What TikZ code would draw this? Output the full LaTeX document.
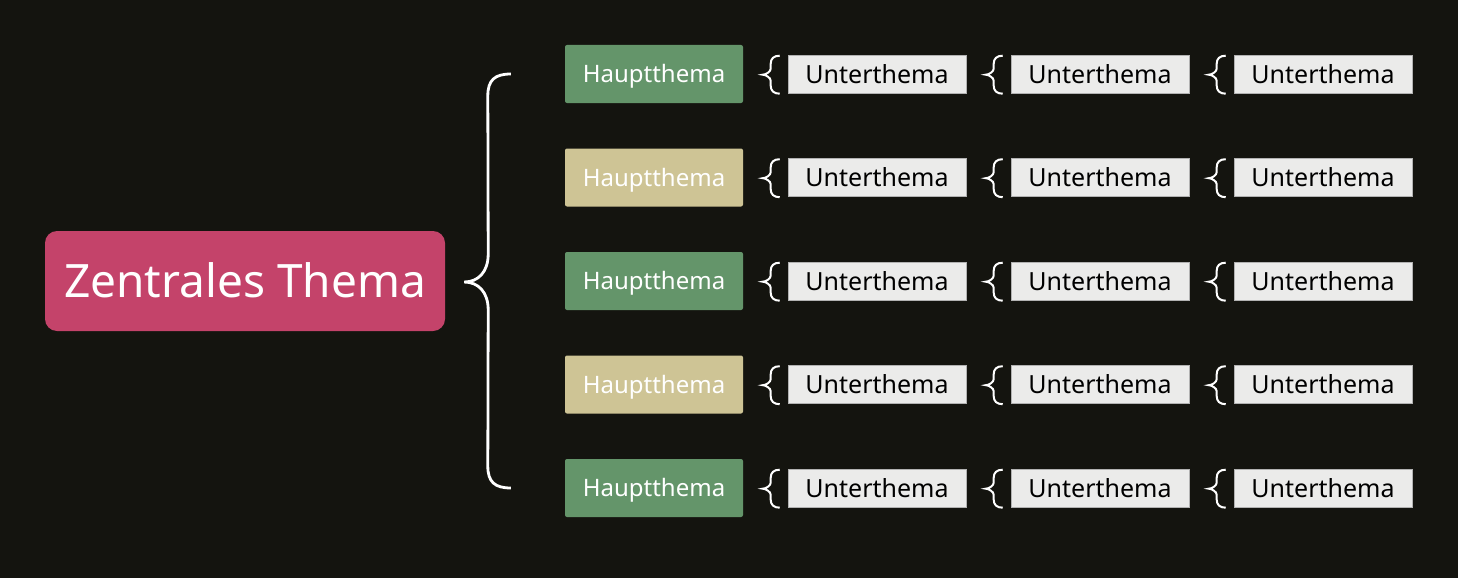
\documentclass[tikz,border=0pt]{standalone}
\usepackage{fontspec}
\setmainfont{Noto Sans}
\usetikzlibrary{calc}
\definecolor{bg}{HTML}{14140F}
\definecolor{zred}{HTML}{C4436A}
\definecolor{hgreen}{HTML}{64956A}
\definecolor{hbeige}{HTML}{CEC495}
\definecolor{ugray}{HTML}{EBEBEA}
\begin{document}
\begin{tikzpicture}[x=1pt,y=-1pt,
  central/.style={fill=zred,rounded corners=12pt,minimum width=400pt,minimum height=100pt,text=white,font=\fontsize{46}{50}\selectfont,inner sep=0pt,text height=33pt,text depth=0pt},
  mainbox/.style={rounded corners=2pt,minimum width=178pt,minimum height=58pt,text=white,font=\fontsize{24}{28}\selectfont,inner sep=0pt,text height=17pt,text depth=0pt},
  subbox/.style={fill=ugray,draw=gray!60,line width=0.6pt,minimum width=178pt,minimum height=38pt,text=black,font=\fontsize{25}{29}\selectfont,inner sep=0pt,text height=18pt,text depth=0pt},
  bracestyle/.style={draw=white,line width=2.8pt},
  sbracestyle/.style={draw=white,line width=2pt}]
\fill[bg] (0,0) rectangle (1458,578);
\useasboundingbox (0,0) rectangle (1458,578);
\node[central] (z) at (245,281) {Zentrales Thema};
\foreach \i/\c in {1/hgreen,2/hbeige,3/hgreen,4/hbeige,5/hgreen}{
  \pgfmathsetmacro{\yy}{74+103.5*(\i-1)}
  \node[mainbox,fill=\c] (h\i) at (654,\yy) {Hauptthema};
  \foreach \j/\xx in {1/877,2/1100,3/1323}{
    \node[subbox] (u\i\j) at (\xx,\yy) {Unterthema};
    \coordinate (s\i\j) at ($(u\i\j.north west)+(-8,1)$);
    \draw[sbracestyle] (s\i\j)
      .. controls +(-6,0) and +(0,-5) .. ++(-9,8) -- ++(0,5)
      .. controls +(0,3) and +(3,0) .. ++(-8,6)
      .. controls +(3,0) and +(0,-3) .. ++(8,6) -- ++(0,5)
      .. controls +(0,5) and +(-6,0) .. ++(9,8);
  }
}
\coordinate (bt) at ($(h1.west)+(-54,0)$);
\coordinate (bb) at ($(h5.west)+(-54,0)$);
\coordinate (bm) at ($(z.east)+(19,1)$);
\draw[bracestyle] (bt) .. controls +(-16,0) and +(0,-16) .. ($(bt)+(-23,22)$)
  -- ($(bm)+(24,-28)$)
  .. controls +(0,18) and +(14,0) .. (bm)
  .. controls +(14,0) and +(0,-18) .. ($(bm)+(24,28)$)
  -- ($(bb)+(-23,-22)$) .. controls +(0,16) and +(-16,0) .. (bb);
\end{tikzpicture}
\end{document}
